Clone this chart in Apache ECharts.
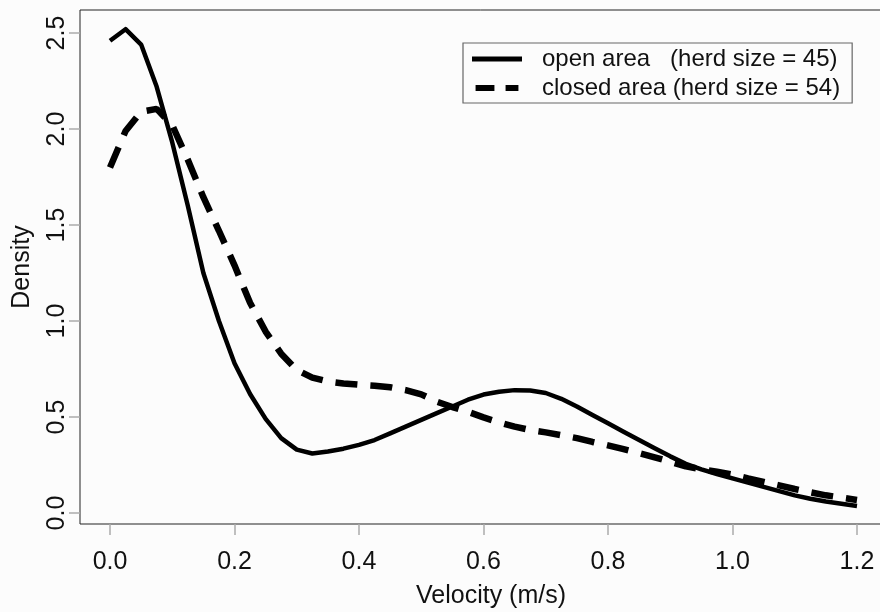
<!DOCTYPE html>
<html>
<head>
<meta charset="utf-8">
<script src="https://cdn.jsdelivr.net/npm/echarts@6/dist/echarts.min.js"></script>
<style>
html,body{margin:0;padding:0;background:#fcfcfc;}
#chart{width:880px;height:612px;}
</style>
</head>
<body>
<div id="chart"></div>
<script>
const velocity = [0.000,0.025,0.050,0.075,0.100,0.125,0.150,0.175,0.200,0.225,0.250,0.275,0.300,0.325,0.350,0.375,0.400,0.425,0.450,0.475,0.500,0.525,0.550,0.575,0.600,0.625,0.650,0.675,0.700,0.725,0.750,0.775,0.800,0.825,0.850,0.875,0.900,0.925,0.950,0.975,1.000,1.025,1.050,1.075,1.100,1.125,1.150,1.175,1.200];
const openDensity = [2.46,2.52,2.44,2.22,1.93,1.60,1.25,1.00,0.78,0.62,0.49,0.39,0.33,0.31,0.32,0.335,0.355,0.38,0.415,0.45,0.485,0.52,0.555,0.59,0.617,0.632,0.64,0.638,0.625,0.595,0.555,0.51,0.467,0.423,0.38,0.337,0.295,0.256,0.227,0.203,0.18,0.158,0.136,0.114,0.092,0.074,0.06,0.048,0.036];
const closedDensity = [1.80,1.99,2.09,2.105,2.02,1.84,1.645,1.47,1.29,1.095,0.945,0.83,0.745,0.705,0.685,0.675,0.668,0.663,0.655,0.64,0.618,0.58,0.552,0.527,0.498,0.472,0.45,0.432,0.42,0.405,0.39,0.37,0.352,0.333,0.312,0.29,0.267,0.243,0.228,0.215,0.2,0.18,0.162,0.144,0.125,0.108,0.092,0.08,0.068];
const xTicks = [0,0.2,0.4,0.6,0.8,1.0,1.2];
const yTicks = [0,0.5,1.0,1.5,2.0,2.5];
const openName = 'open area   (herd size = 45)';
const closedName = 'closed area (herd size = 54)';

const FONT = '"Liberation Sans", Arial, Helvetica, sans-serif';
const chart = echarts.init(document.getElementById('chart'), null, {renderer:'canvas'});
const pairs = arr => velocity.map((v,i)=>[v, arr[i]]);

chart.setOption({
  animation: false,
  backgroundColor: '#fcfcfc',
  grid: {left: 80, top: 10, width: 822, height: 514, containLabel: false, outerBoundsMode: 'none',
         show: true, borderColor: '#222', borderWidth: 1, backgroundColor: 'transparent'},
  xAxis: {
    type: 'value', min: -0.0482, max: 1.2723,
    splitLine: {show: false},
    axisLine: {show: false, onZero: false},
    axisTick: {show: true, length: 11, lineStyle: {color: '#aaa', width: 1.5}, customValues: xTicks},
    axisLabel: {customValues: xTicks, formatter: v => v.toFixed(1), fontSize: 25, color: '#111', fontFamily: FONT, margin: 26},
    name: 'Velocity (m/s)', nameLocation: 'middle', nameGap: 60,
    nameTextStyle: {fontSize: 25, color: '#111', fontFamily: FONT}
  },
  yAxis: {
    type: 'value', min: -0.0573, max: 2.62,
    splitLine: {show: false},
    axisLine: {show: false, onZero: false},
    axisTick: {show: true, length: 11, lineStyle: {color: '#aaa', width: 1.5}, customValues: yTicks},
    axisLabel: {customValues: yTicks, formatter: v => v.toFixed(1), rotate: 90, fontSize: 25, color: '#111', fontFamily: FONT, margin: 10},
    name: 'Density', nameLocation: 'middle', nameGap: 45, nameRotate: 90,
    nameTextStyle: {fontSize: 25, color: '#111', fontFamily: FONT}
  },
  legend: {
    orient: 'vertical', left: 463, top: 43,
    padding: [4, 12, 3, 9],
    itemWidth: 50, itemHeight: 6, itemGap: 5,
    borderColor: '#666', borderWidth: 1.2,
    textStyle: {fontSize: 24, color: '#111', fontFamily: FONT, lineHeight: 24, padding: [0,0,0,15]},
    data: [
      {name: openName, icon: 'path://M0,0h50v5h-50z'},
      {name: closedName, icon: 'path://M0,0h22v7h-22zM35,0h15v7h-15z'}
    ]
  },
  series: [
    {name: openName, type: 'line', data: pairs(openDensity), showSymbol: false, symbol: 'none', color: '#000',
     lineStyle: {color: '#000', width: 4.5, join: 'round'}, z: 3},
    {name: closedName, type: 'line', data: pairs(closedDensity), showSymbol: false, symbol: 'none', color: '#000',
     lineStyle: {color: '#000', width: 6.5, type: [22, 13], cap: 'butt'}, z: 2}
  ]
});
</script>
</body>
</html>
